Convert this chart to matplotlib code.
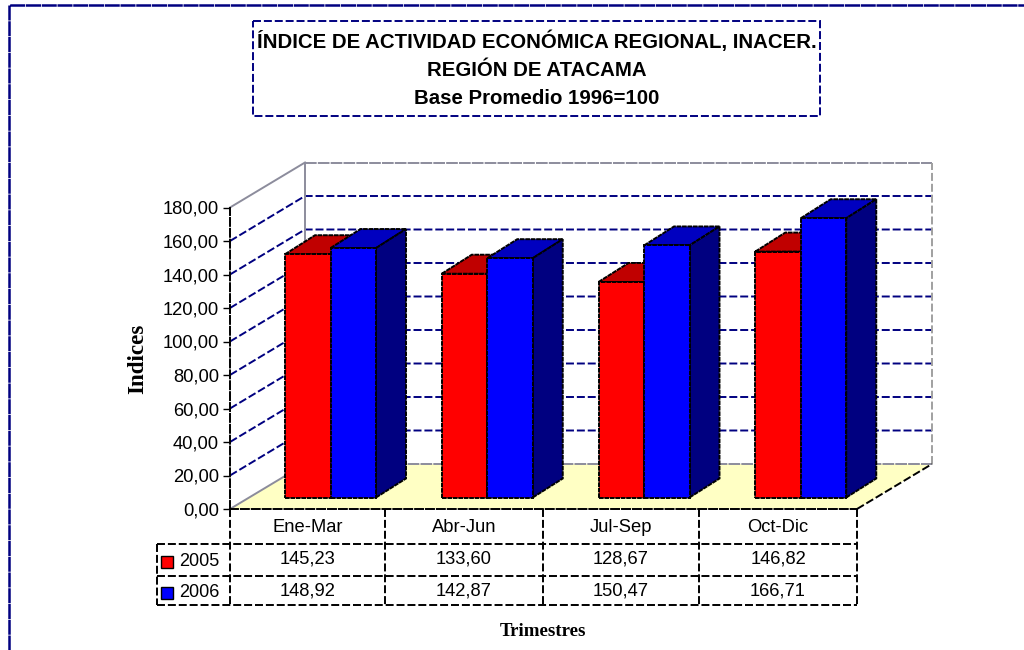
import matplotlib
matplotlib.use("Agg")
import matplotlib.pyplot as plt
from matplotlib.patches import Polygon, Rectangle
from matplotlib.ticker import FuncFormatter

plt.rcParams['font.family'] = ['Liberation Sans', 'DejaVu Sans']

trimestres = ['Ene-Mar', 'Abr-Jun', 'Jul-Sep', 'Oct-Dic']
valores_2005 = [145.23, 133.60, 128.67, 146.82]
valores_2006 = [148.92, 142.87, 150.47, 166.71]
etiquetas_2005 = ['145,23', '133,60', '128,67', '146,82']
etiquetas_2006 = ['148,92', '142,87', '150,47', '166,71']
ticks_y = [0, 20, 40, 60, 80, 100, 120, 140, 160, 180]
titulo = ['ÍNDICE DE ACTIVIDAD ECONÓMICA REGIONAL, INACER.',
          'REGIÓN DE ATACAMA',
          'Base Promedio 1996=100']

AZUL_OSCURO = '#000080'
GRIS = '#8c8c9c'
PISO = '#ffffc4'
LW = 1.4
GUION = (0, (4.1, 1.5))
GUION_BARRA = (0, (2.4, 0.4))

W, H = 1024, 650
fig = plt.figure(figsize=(W / 100, H / 100), dpi=100)

# capa en pixeles para el marco, el titulo y la tabla
px = fig.add_axes([0, 0, 1, 1])
px.set_xlim(0, W)
px.set_ylim(H, 0)
px.axis('off')

# ejes de datos: el plano frontal del grafico
x0, x1, y0 = 230, 857, 509
esc_y = 1.675
ax = fig.add_axes([x0 / W, (H - y0) / H, (x1 - x0) / W, 180 * esc_y / H])
ax.set_xlim(0, 4)
ax.set_ylim(0, 180)
ax.patch.set_alpha(0)
esc_x = (x1 - x0) / 4

# profundidad de la perspectiva, pasada a unidades de datos
prof_x, prof_y = 75 / esc_x, 45 / esc_y
barra_x, barra_y = 30 / esc_x, 19 / esc_y
base = 11.5 / esc_y
ancho = 45.5 / esc_x
margen = 55 / esc_x

# marco exterior
px.plot([9, 9, W], [H, 5, 5], color=AZUL_OSCURO, lw=1.8, ls=(0, (6, 0.3)))

# caja del titulo
px.add_patch(Rectangle((253, 21), 567, 94.5, fill=False, ec=AZUL_OSCURO, lw=LW, ls=GUION))
for linea, y in zip(titulo, [48, 76, 104]):
    px.text(537, y, linea, ha='center', va='baseline', fontsize=14.7, fontweight='bold')

# piso y paredes
ax.add_patch(Polygon([(0, 0), (prof_x, prof_y), (4 + prof_x, prof_y), (4, 0)],
                     closed=True, fc=PISO, ec='none', clip_on=False, zorder=1))
for v in ticks_y[1:-1]:
    ax.plot([0, prof_x, 4 + prof_x], [v, v + prof_y, v + prof_y], color=AZUL_OSCURO,
            lw=LW, ls=GUION, clip_on=False, zorder=1.5)
cima = 180 + prof_y
ax.plot([0, prof_x], [0, prof_y], color=GRIS, lw=LW, clip_on=False, zorder=2)
ax.plot([0, prof_x], [180, cima], color=GRIS, lw=LW, clip_on=False, zorder=2)
ax.plot([prof_x, prof_x], [prof_y, cima], color=GRIS, lw=LW, clip_on=False, zorder=2)
ax.plot([prof_x, 4 + prof_x], [cima, cima], color=GRIS, lw=LW, ls=(0, (6, 0.6)), clip_on=False, zorder=2)
ax.plot([prof_x, 4 + prof_x], [prof_y, prof_y], color=GRIS, lw=LW, ls=(0, (6, 0.6)), clip_on=False, zorder=2)
ax.plot([4 + prof_x, 4 + prof_x], [prof_y, cima], color='#a0a0a0', lw=LW, ls=GUION, clip_on=False, zorder=2)
ax.plot([4, 4 + prof_x], [0, prof_y], color='black', lw=LW, ls=GUION, clip_on=False, zorder=2)


def barras(posiciones, valores, frente, arriba, lado, z):
    ax.bar(posiciones, valores, width=ancho, bottom=base, align='edge', color=frente,
           edgecolor='black', lw=LW, ls=GUION_BARRA, zorder=z + 0.2)
    for xp, v in zip(posiciones, valores):
        t = base + v
        ax.add_patch(Polygon([(xp, t), (xp + barra_x, t + barra_y),
                              (xp + ancho + barra_x, t + barra_y), (xp + ancho, t)],
                             closed=True, fc=arriba, ec='black', lw=LW, ls=GUION_BARRA,
                             clip_on=False, zorder=z))
        ax.add_patch(Polygon([(xp + ancho, base), (xp + ancho + barra_x, base + barra_y),
                              (xp + ancho + barra_x, t + barra_y), (xp + ancho, t)],
                             closed=True, fc=lado, ec='black', lw=LW, ls=GUION_BARRA,
                             clip_on=False, zorder=z))


pos_2005 = [i + margen for i in range(len(trimestres))]
pos_2006 = [p + ancho for p in pos_2005]
barras(pos_2005, valores_2005, '#ff0000', '#c00000', '#800000', 3)
barras(pos_2006, valores_2006, '#0000ff', '#0000c0', AZUL_OSCURO, 4)

# eje y
ax.set_yticks(ticks_y)
ax.yaxis.set_major_formatter(FuncFormatter(lambda v, p: f'{v:.2f}'.replace('.', ',')))
ax.tick_params(axis='y', labelsize=13.2, length=5, width=1, pad=2.9)
ax.set_xticks([])
for lado in ['top', 'right']:
    ax.spines[lado].set_visible(False)
for lado in ['left', 'bottom']:
    ax.spines[lado].set_linestyle(GUION)
    ax.spines[lado].set_linewidth(LW)
    ax.spines[lado].set_zorder(6)

# tabla de datos
filas_y = [543.5, 575.5, 605]
col_x = [230, 385, 543, 699, 857]
kw = dict(color='black', lw=LW, ls=GUION)
for xc in col_x:
    px.plot([xc, xc], [y0, filas_y[-1]], **kw)
px.plot([157, 157], [filas_y[0], filas_y[-1]], **kw)
for yf in filas_y:
    px.plot([157, 857], [yf, yf], **kw)
for i in range(4):
    xc = (col_x[i] + col_x[i + 1]) / 2
    px.text(xc, 527.5, trimestres[i], ha='center', va='center', fontsize=13.2)
    px.text(xc, 559.5, etiquetas_2005[i], ha='center', va='center', fontsize=13.2)
    px.text(xc, 591.5, etiquetas_2006[i], ha='center', va='center', fontsize=13.2)
for nombre, color, y in [('2005', '#ff0000', 556), ('2006', '#0000ff', 587)]:
    px.add_patch(Rectangle((161, y), 12, 11.5, fc=color, ec='black', lw=1))
    px.text(179, y + 5.5, nombre, ha='left', va='center', fontsize=13)

# titulos de ejes
px.text(138, 359, 'Indices', rotation=90, ha='center', va='center', fontsize=16.6,
        fontweight='bold', family='Liberation Serif')
px.text(542.5, 632, 'Trimestres', ha='center', va='center', fontsize=13.6,
        fontweight='bold', family='Liberation Serif')

fig.savefig('out.png', dpi=100)
